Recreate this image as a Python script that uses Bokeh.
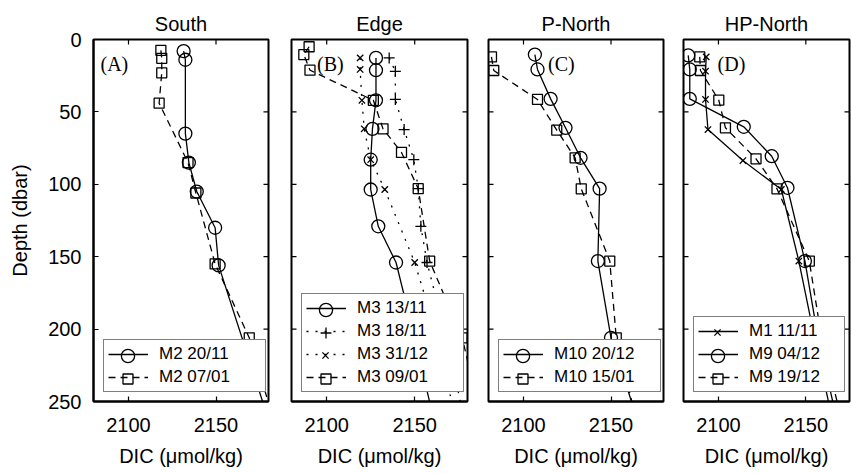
import math
from bokeh.plotting import figure
from bokeh.layouts import row
from bokeh.models import Range1d, FixedTicker, Legend, LegendItem, Label
from bokeh.embed import file_html
from bokeh.resources import INLINE

FONT = "Liberation Sans"
SERIF = "Liberation Serif"

# ---------------- data ----------------
panel_titles = ["South", "Edge", "P-North", "HP-North"]
panel_tags = ["(A)", "(B)", "(C)", "(D)"]
tag_dic = [2084.0, 2094.5, 2114.0, 2099.5]
tag_depth = 17.0
x_ticks = [2100, 2150]
y_ticks = [0, 50, 100, 150, 200, 250]

# Panel A (South)
m2_2011_depth = [8, 14, 65, 85, 105, 130, 156, 300]
m2_2011_dic = [2131.5, 2132.5, 2132.5, 2134.5, 2139.0, 2149.5, 2151.5, 2190.0]
m2_0701_depth = [7.5, 13, 23, 44, 85, 106, 155, 206, 300]
m2_0701_dic = [2118.5, 2119.0, 2119.0, 2117.5, 2134.0, 2138.5, 2149.5, 2169.0, 2192.0]

# Panel B (Edge)
m3_1311_depth = [12.7, 21.2, 42, 61.7, 83, 103.6, 129, 154, 206, 300]
m3_1311_dic = [2128.0, 2128.0, 2128.0, 2126.0, 2125.0, 2125.0, 2129.3, 2139.4, 2150.0, 2168.0]
m3_1811_depth = [12.7, 22, 41.4, 62.2, 83, 103, 129, 154, 206, 300]
m3_1811_dic = [2135.5, 2139.0, 2139.0, 2144.0, 2149.5, 2152.0, 2153.5, 2157.0, 2168.0, 2185.0]
m3_3112_depth = [12.7, 20.7, 42, 61.7, 83, 103.6, 154, 206, 300]
m3_3112_dic = [2119.0, 2119.0, 2120.0, 2121.3, 2125.0, 2133.0, 2150.0, 2163.0, 2180.0]
m3_0901_depth = [5, 10.4, 21.2, 42, 61.7, 78, 103, 153, 206, 300]
m3_0901_dic = [2090.0, 2087.0, 2090.5, 2126.5, 2132.0, 2142.5, 2152.0, 2158.5, 2177.0, 2195.0]

# Panel C (P-North)
m10_2012_depth = [10.4, 20.7, 41, 61, 81.7, 103, 153, 206, 300]
m10_2012_dic = [2106.5, 2108.0, 2115.5, 2124.0, 2132.6, 2143.5, 2142.5, 2150.0, 2175.0]
m10_1501_depth = [12, 21.4, 41.4, 62.6, 81.7, 103.1, 153, 206, 300]
m10_1501_dic = [2081.7, 2083.0, 2108.0, 2119.0, 2129.5, 2133.0, 2149.3, 2153.0, 2172.0]

# Panel D (HP-North)
m1_1111_depth = [12, 21.9, 41.4, 62.2, 83.6, 103.6, 153, 206, 300]
m1_1111_dic = [2093.0, 2092.6, 2092.6, 2094.0, 2114.0, 2136.0, 2146.0, 2155.0, 2172.0]
m9_0412_depth = [11, 20.7, 41, 60.3, 80.6, 102.4, 153, 206, 300]
m9_0412_dic = [2082.7, 2083.6, 2083.6, 2114.5, 2130.5, 2139.5, 2149.5, 2157.0, 2175.0]
m9_1912_depth = [12, 21.4, 41.9, 61, 82.4, 103.1, 153, 206, 300]
m9_1912_dic = [2089.3, 2089.7, 2100.2, 2104.0, 2121.5, 2133.5, 2152.0, 2159.0, 2178.0]

SOLID, DASHED, DOTTED = "solid", "7 5", "2 7"

panels_series = [
    [("M2 20/11", m2_2011_depth, m2_2011_dic, "circle", SOLID),
     ("M2 07/01", m2_0701_depth, m2_0701_dic, "square", DASHED)],
    [("M3 13/11", m3_1311_depth, m3_1311_dic, "circle", SOLID),
     ("M3 18/11", m3_1811_depth, m3_1811_dic, "cross", DOTTED),
     ("M3 31/12", m3_3112_depth, m3_3112_dic, "x", DOTTED),
     ("M3 09/01", m3_0901_depth, m3_0901_dic, "square", DASHED)],
    [("M10 20/12", m10_2012_depth, m10_2012_dic, "circle", SOLID),
     ("M10 15/01", m10_1501_depth, m10_1501_dic, "square", DASHED)],
    [("M1 11/11", m1_1111_depth, m1_1111_dic, "x", SOLID),
     ("M9 04/12", m9_0412_depth, m9_0412_dic, "circle", SOLID),
     ("M9 19/12", m9_1912_depth, m9_1912_dic, "square", DASHED)],
]

# ---------------- layout / style ----------------
marker_size = {"circle": 13, "square": 10, "cross": 11, "x": 9}
legend_marker_box = {"circle": 33, "square": 25, "cross": 27, "x": 22}

fig_width = [280, 197, 196, 178]
border_left = [93, 11, 11, 10]
border_right = [12, 10, 10, 2]
x_start = 2080
x_end = [2180, 2180, 2180, 2175]
legend_label_width = [102, 102, 102, 91]


def style_axis(ax):
    ax.major_tick_in = 5
    ax.major_tick_out = 0
    ax.minor_tick_line_color = None
    ax.axis_line_color = "black"
    ax.axis_line_width = 2
    ax.major_tick_line_color = "black"
    ax.major_tick_line_width = 1.2
    ax.major_label_text_font = FONT
    ax.major_label_text_color = "black"
    ax.major_label_text_font_size = "20px"
    ax.axis_label_text_font = FONT
    ax.axis_label_text_font_size = "20px"
    ax.axis_label_text_font_style = "normal"
    ax.axis_label_text_color = "black"


def make_panel(i):
    xe = x_end[i]
    p = figure(width=fig_width[i], height=473,
               x_range=Range1d(x_start, xe), y_range=Range1d(250, 0),
               output_backend="svg", toolbar_location=None,
               min_border_left=border_left[i], min_border_right=border_right[i],
               min_border_top=39, min_border_bottom=72)
    p.xgrid.visible = False
    p.ygrid.visible = False
    p.outline_line_color = "black"
    p.outline_line_width = 2
    p.background_fill_color = "white"
    p.border_fill_color = "white"

    p.title.text = panel_titles[i]
    p.title.align = "center"
    p.title.vertical_align = "middle"
    p.title.text_font = FONT
    p.title.text_font_size = "20px"
    p.title.text_font_style = "normal"
    p.title.text_color = "black"
    p.title.standoff = 8

    # bottom axis
    xa = p.xaxis[0]
    style_axis(xa)
    xa.ticker = FixedTicker(ticks=x_ticks)
    xa.major_label_standoff = 16
    xa.axis_label = "DIC (\u03bcmol/kg)"
    xa.axis_label_standoff = 10

    # left axis (labelled only on the first panel)
    ya = p.yaxis[0]
    if i == 0:
        style_axis(ya)
        ya.ticker = FixedTicker(ticks=y_ticks)
        ya.major_label_standoff = 12
        ya.axis_label = "Depth (dbar)"
        ya.axis_label_standoff = 14
    else:
        ya.visible = False

    # inward ticks on the remaining box sides (half of each dash is clipped by the frame)
    tick_kw = dict(marker="dash", size=10, line_color="black", line_width=1.2)
    p.scatter(x=x_ticks, y=[0] * len(x_ticks), angle=math.pi / 2, **tick_kw)
    p.scatter(x=[xe] * len(y_ticks), y=y_ticks, **tick_kw)
    if i > 0:
        p.scatter(x=[x_start] * len(y_ticks), y=y_ticks, **tick_kw)

    series = panels_series[i]
    lines, marks = [], []
    for (label, depth, dic, marker, dash) in series:
        lr = p.line(dic, depth, line_color="black", line_width=1.3, line_dash=dash)
        sr = p.scatter(dic, depth, marker=marker, size=marker_size[marker],
                       line_color="black", line_width=1.3, fill_alpha=0)
        lines.append(lr)
        marks.append(sr)

    p.add_layout(Label(x=tag_dic[i], y=tag_depth, text=panel_tags[i],
                       text_font=SERIF, text_font_size="20px",
                       text_baseline="middle", text_align="left", text_color="black"))

    # legend: lines + labels in a boxed legend, markers overlaid at their real size
    pad = 4
    n = len(series)
    leg = Legend(items=[LegendItem(label=s[0], renderers=[lines[k]]) for k, s in enumerate(series)],
                 location=(10, 9), padding=pad, margin=0, spacing=3,
                 glyph_width=40, glyph_height=20, label_height=20,
                 label_standoff=11, label_width=legend_label_width[i],
                 label_text_font=FONT, label_text_font_size="17px", label_text_color="black",
                 border_line_color="black", border_line_width=1.5,
                 background_fill_color="white", background_fill_alpha=1.0)
    p.add_layout(leg)

    for k, s in enumerate(series):
        g = legend_marker_box[s[3]]
        lx = 10 + pad + 20 - g / 2
        ly = 9 + pad + (n - 1 - k) * 23 + 10 - g / 2
        ml = Legend(items=[LegendItem(label="", renderers=[marks[k]])],
                    location=(lx, ly), padding=0, margin=0, spacing=0,
                    glyph_width=g, glyph_height=g, label_height=0, label_width=0,
                    label_standoff=0, label_text_font=FONT, label_text_font_size="17px",
                    border_line_color=None, background_fill_alpha=0)
        p.add_layout(ml)
    return p


figs = [make_panel(i) for i in range(4)]
layout = row(*figs, spacing=0)

with open("out.html", "w") as f:
    f.write(file_html(layout, INLINE))
